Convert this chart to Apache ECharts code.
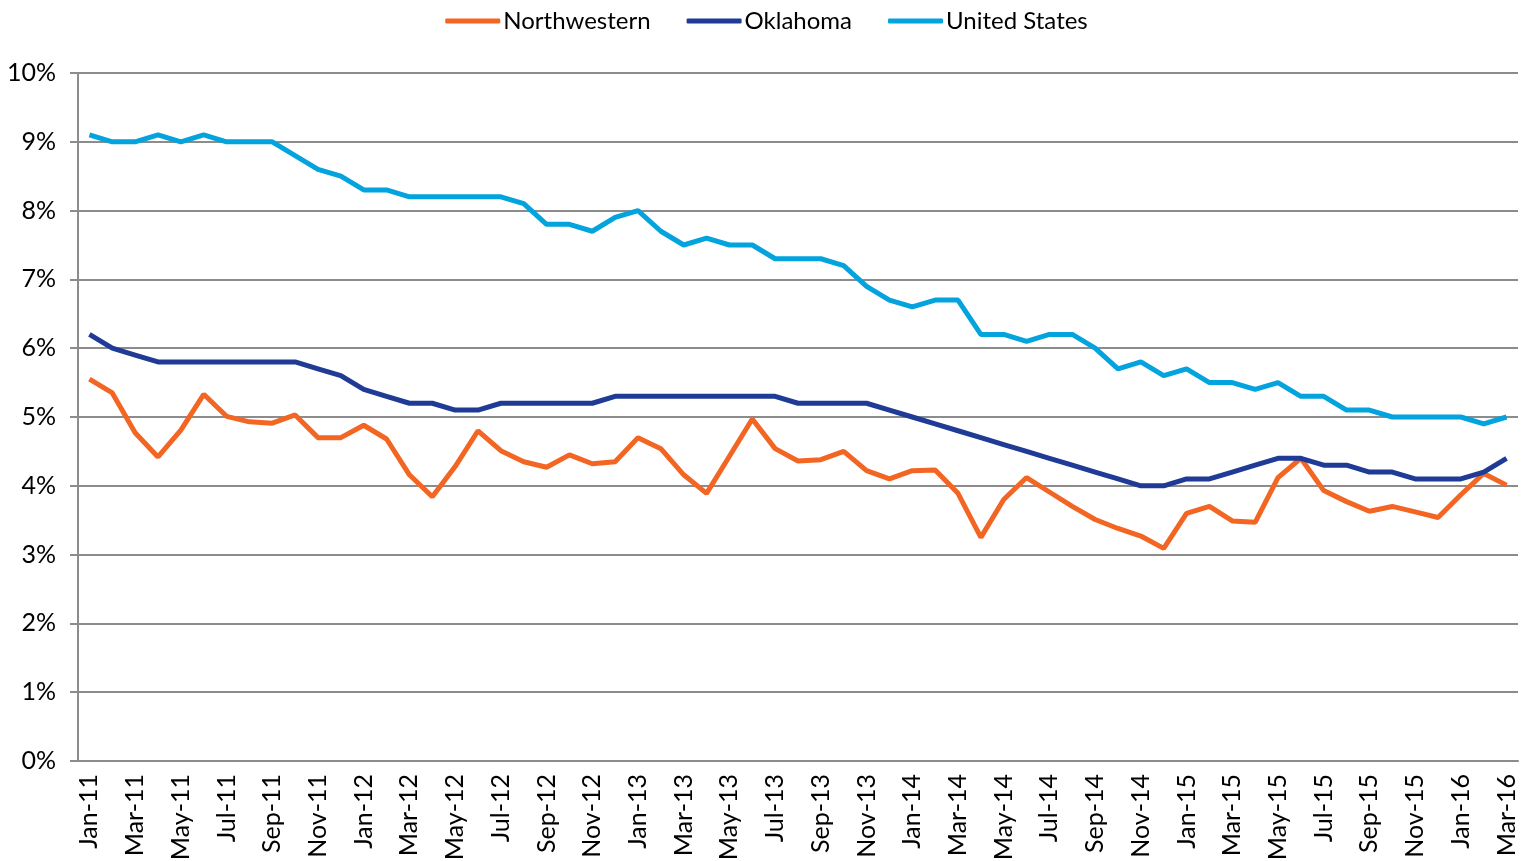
<!DOCTYPE html>
<html>
<head>
<meta charset="utf-8">
<script src="https://cdn.jsdelivr.net/npm/echarts@6/dist/echarts.min.js"></script>
<style>
  html, body { margin: 0; padding: 0; background: #fff; }
  #chart { width: 1533px; height: 861px; }
</style>
</head>
<body>
<div id="chart"></div>
<script>
// months Jan-11 .. Mar-16
const months = [
  'Jan-11','Feb-11','Mar-11','Apr-11','May-11','Jun-11','Jul-11','Aug-11','Sep-11','Oct-11','Nov-11','Dec-11',
  'Jan-12','Feb-12','Mar-12','Apr-12','May-12','Jun-12','Jul-12','Aug-12','Sep-12','Oct-12','Nov-12','Dec-12',
  'Jan-13','Feb-13','Mar-13','Apr-13','May-13','Jun-13','Jul-13','Aug-13','Sep-13','Oct-13','Nov-13','Dec-13',
  'Jan-14','Feb-14','Mar-14','Apr-14','May-14','Jun-14','Jul-14','Aug-14','Sep-14','Oct-14','Nov-14','Dec-14',
  'Jan-15','Feb-15','Mar-15','Apr-15','May-15','Jun-15','Jul-15','Aug-15','Sep-15','Oct-15','Nov-15','Dec-15',
  'Jan-16','Feb-16','Mar-16'
]

// unemployment rate, %
const northwestern = [
  5.55, 5.35, 4.77, 4.42, 4.81, 5.33, 5.01, 4.93, 4.91, 5.03, 4.70, 4.70,
  4.88, 4.68, 4.16, 3.84, 4.28, 4.80, 4.51, 4.35, 4.27, 4.45, 4.32, 4.35,
  4.70, 4.54, 4.16, 3.89, 4.43, 4.97, 4.54, 4.36, 4.38, 4.50, 4.22, 4.10,
  4.22, 4.23, 3.89, 3.25, 3.80, 4.12, 3.91, 3.70, 3.51, 3.38, 3.27, 3.09,
  3.60, 3.70, 3.49, 3.47, 4.12, 4.40, 3.93, 3.77, 3.63, 3.70, 3.62, 3.54,
  3.87, 4.18, 4.01
]
const oklahoma = [
  6.2, 6.0, 5.9, 5.8, 5.8, 5.8, 5.8, 5.8, 5.8, 5.8, 5.7, 5.6,
  5.4, 5.3, 5.2, 5.2, 5.1, 5.1, 5.2, 5.2, 5.2, 5.2, 5.2, 5.3,
  5.3, 5.3, 5.3, 5.3, 5.3, 5.3, 5.3, 5.2, 5.2, 5.2, 5.2, 5.1,
  5.0, 4.9, 4.8, 4.7, 4.6, 4.5, 4.4, 4.3, 4.2, 4.1, 4.0, 4.0,
  4.1, 4.1, 4.2, 4.3, 4.4, 4.4, 4.3, 4.3, 4.2, 4.2, 4.1, 4.1,
  4.1, 4.2, 4.4
]
const unitedStates = [
  9.1, 9.0, 9.0, 9.1, 9.0, 9.1, 9.0, 9.0, 9.0, 8.8, 8.6, 8.5,
  8.3, 8.3, 8.2, 8.2, 8.2, 8.2, 8.2, 8.1, 7.8, 7.8, 7.7, 7.9,
  8.0, 7.7, 7.5, 7.6, 7.5, 7.5, 7.3, 7.3, 7.3, 7.2, 6.9, 6.7,
  6.6, 6.7, 6.7, 6.2, 6.2, 6.1, 6.2, 6.2, 6.0, 5.7, 5.8, 5.6,
  5.7, 5.5, 5.5, 5.4, 5.5, 5.3, 5.3, 5.1, 5.1, 5.0, 5.0, 5.0,
  5.0, 4.9, 5.0
]

const font = 'Lato, Carlito, "Liberation Sans", sans-serif'

const chart = echarts.init(document.getElementById('chart'))

const mkLine = (name, data, color) => ({
  name,
  type: 'line',
  data,
  symbol: 'none',
  lineStyle: { color, width: 5 },
  itemStyle: { color }
})

chart.setOption({
  animation: false,
  legend: {
    top: 4,
    left: 'center',
    icon: 'roundRect',
    itemWidth: 55,
    itemHeight: 5,
    itemGap: 36,
    textStyle: { fontFamily: font, fontSize: 24, color: '#000', padding: [0, 0, 0, -2] },
    data: ['Northwestern', 'Oklahoma', 'United States']
  },
  grid: { left: 78, right: 15, top: 73, bottom: 100, outerBoundsMode: 'none' },
  xAxis: {
    type: 'category',
    data: months,
    boundaryGap: true,
    axisLine: { lineStyle: { color: '#8c8c8c', width: 2 } },
    axisTick: { interval: 1, length: 8, lineStyle: { color: '#8c8c8c', width: 2 } },
    axisLabel: {
      interval: 1,
      rotate: 90,
      fontFamily: font,
      fontSize: 25,
      color: '#000',
      margin: 13
    }
  },
  yAxis: {
    type: 'value',
    min: 0,
    max: 10,
    interval: 1,
    axisLine: { show: true, lineStyle: { color: '#8c8c8c', width: 2 } },
    axisTick: { show: true, length: 8, lineStyle: { color: '#8c8c8c', width: 2 } },
    splitLine: { lineStyle: { color: '#8c8c8c', width: 2 } },
    axisLabel: {
      formatter: '{value}%',
      fontFamily: font,
      fontSize: 25,
      color: '#000',
      margin: 22
    }
  },
  series: [
    mkLine('Northwestern', northwestern, '#f26522'),
    mkLine('Oklahoma', oklahoma, '#1f3b96'),
    mkLine('United States', unitedStates, '#03a3de')
  ]
})
</script>
</body>
</html>
